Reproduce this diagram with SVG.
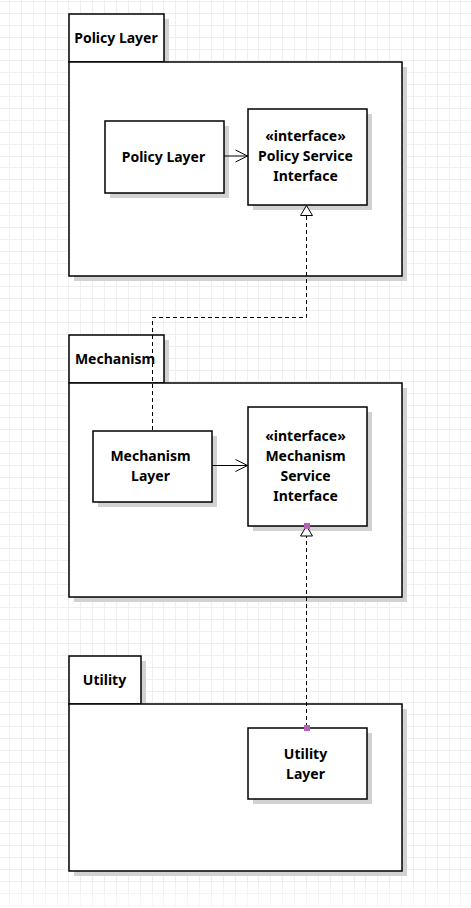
<svg xmlns="http://www.w3.org/2000/svg" width="471" height="908" viewBox="0 0 471 908">
<style>
.grid{fill:none;stroke:#efefef;stroke-width:1}
.shadow{fill:#d2d2d2;stroke:none}
.box{fill:#fff;stroke:#000;stroke-width:1.5}
.lbl{font-family:"Noto Sans","Open Sans","DejaVu Sans",sans-serif;font-weight:bold;font-size:14px;fill:#000;text-anchor:middle}
.line{fill:none;stroke:#000;stroke-width:1}
.dash{fill:none;stroke:#000;stroke-width:1;stroke-dasharray:4,3}
.tri{fill:#fff;stroke:#000;stroke-width:1}
.pt{fill:#b462b8;stroke:none}
</style>
<defs>
<linearGradient id="fade" x1="0" y1="0" x2="0" y2="1">
<stop offset="0" stop-color="#fff" stop-opacity="0"/>
<stop offset="1" stop-color="#fff" stop-opacity="0.6"/>
</linearGradient>
</defs>
<rect x="0" y="0" width="471" height="908" fill="#fff"/>
<path class="grid" d="M9.5 0V908M21.5 0V908M33.5 0V908M45.5 0V908M57.5 0V908M68.5 0V908M80.5 0V908M92.5 0V908M104.5 0V908M116.5 0V908M128.5 0V908M140.5 0V908M152.5 0V908M163.5 0V908M175.5 0V908M187.5 0V908M199.5 0V908M211.5 0V908M223.5 0V908M235.5 0V908M247.5 0V908M258.5 0V908M270.5 0V908M282.5 0V908M294.5 0V908M306.5 0V908M318.5 0V908M330.5 0V908M342.5 0V908M354.5 0V908M365.5 0V908M377.5 0V908M389.5 0V908M401.5 0V908M413.5 0V908M425.5 0V908M437.5 0V908M449.5 0V908M460.5 0V908
M0 1.5H471M0 13.5H471M0 25.5H471M0 37.5H471M0 49.5H471M0 60.5H471M0 72.5H471M0 84.5H471M0 96.5H471M0 108.5H471M0 120.5H471M0 132.5H471M0 144.5H471M0 156.5H471M0 167.5H471M0 179.5H471M0 191.5H471M0 203.5H471M0 215.5H471M0 227.5H471M0 239.5H471M0 251.5H471M0 263.5H471M0 274.5H471M0 286.5H471M0 298.5H471M0 310.5H471M0 322.5H471M0 334.5H471M0 346.5H471M0 358.5H471M0 370.5H471M0 381.5H471M0 393.5H471M0 405.5H471M0 417.5H471M0 429.5H471M0 441.5H471M0 453.5H471M0 465.5H471M0 477.5H471M0 488.5H471M0 500.5H471M0 512.5H471M0 524.5H471M0 536.5H471M0 548.5H471M0 560.5H471M0 572.5H471M0 584.5H471M0 595.5H471M0 607.5H471M0 619.5H471M0 631.5H471M0 643.5H471M0 655.5H471M0 667.5H471M0 679.5H471M0 691.5H471M0 702.5H471M0 714.5H471M0 726.5H471M0 738.5H471M0 750.5H471M0 762.5H471M0 774.5H471M0 786.5H471M0 798.5H471M0 809.5H471M0 821.5H471M0 833.5H471M0 845.5H471M0 857.5H471M0 869.5H471M0 881.5H471M0 893.5H471M0 905.5H471"/>
<rect x="0" y="884" width="471" height="24" fill="url(#fade)"/>

<g id="pkg-policy">
<rect class="shadow" x="74" y="19" width="95" height="48"/>
<rect class="shadow" x="74" y="67" width="333" height="214"/>
<rect class="box" x="69" y="14" width="95" height="48"/>
<rect class="box" x="69" y="62" width="333" height="214"/>
<text class="lbl" x="116" y="42.5">Policy Layer</text>
</g>

<g id="pkg-mechanism">
<rect class="shadow" x="74" y="340" width="95" height="48"/>
<rect class="shadow" x="74" y="388" width="333" height="214"/>
<rect class="box" x="69" y="335" width="95" height="48"/>
<rect class="box" x="69" y="383" width="333" height="214"/>
<text class="lbl" x="115" y="363.5">Mechanism</text>
</g>

<g id="pkg-utility">
<rect class="shadow" x="74" y="661" width="72" height="48"/>
<rect class="shadow" x="74" y="709" width="333" height="167"/>
<rect class="box" x="69" y="656" width="72" height="48"/>
<rect class="box" x="69" y="704" width="333" height="167"/>
<text class="lbl" x="104.5" y="684.5">Utility</text>
</g>

<g id="policy-layer">
<rect class="shadow" x="110" y="126" width="119" height="72"/>
<rect class="box" x="105" y="121" width="119" height="72"/>
<text class="lbl" x="163.5" y="161.5">Policy Layer</text>
</g>

<g id="policy-service-interface">
<rect class="shadow" x="253" y="114" width="119" height="96"/>
<rect class="box" x="248" y="109" width="119" height="96"/>
<text class="lbl" x="305.5" y="141">«interface»</text>
<text class="lbl" x="305.5" y="161">Policy Service</text>
<text class="lbl" x="305.5" y="181">Interface</text>
</g>

<g id="mechanism-layer">
<rect class="shadow" x="98" y="436" width="119" height="71"/>
<rect class="box" x="93" y="431" width="119" height="71"/>
<text class="lbl" x="150.5" y="461">Mechanism</text>
<text class="lbl" x="150.5" y="481">Layer</text>
</g>

<g id="mechanism-service-interface">
<rect class="shadow" x="253" y="412" width="119" height="119"/>
<rect class="box" x="248" y="407" width="119" height="119"/>
<text class="lbl" x="305.5" y="441">«interface»</text>
<text class="lbl" x="305.5" y="461">Mechanism</text>
<text class="lbl" x="305.5" y="481">Service</text>
<text class="lbl" x="305.5" y="501">Interface</text>
</g>

<g id="utility-layer">
<rect class="shadow" x="253" y="733" width="119" height="71"/>
<rect class="box" x="248" y="728" width="119" height="71"/>
<text class="lbl" x="305.5" y="758.5">Utility</text>
<text class="lbl" x="305.5" y="778.5">Layer</text>
</g>

<g id="connectors">
<path class="line" d="M224 156H247.5"/>
<path class="line" d="M235.5 150L247.5 156L235.5 162"/>
<path class="line" d="M212 465.5H247.5"/>
<path class="line" d="M235.5 459.5L247.5 465.5L235.5 471.5"/>
<path class="dash" d="M152.5 430V317.5H306.5V215.5"/>
<path class="tri" d="M306.5 205.5L300.5 215.5H312.5Z"/>
<path class="dash" d="M306.5 727V536"/>
<path class="tri" d="M306.5 526L300.5 536H312.5Z"/>
<rect class="pt" x="304" y="523" width="6" height="6"/>
<rect class="pt" x="304" y="725" width="6" height="6"/>
</g>
</svg>
